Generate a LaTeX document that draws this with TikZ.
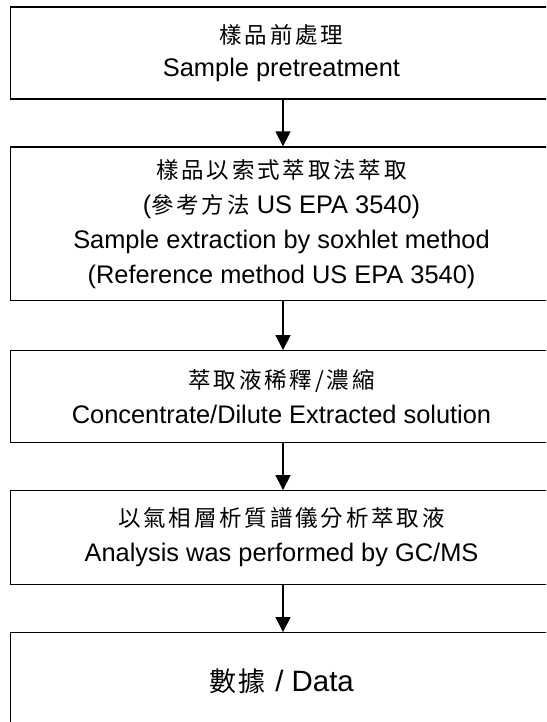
\documentclass[tikz,border=0pt]{standalone}
\usepackage{fontspec}
\setmainfont{Liberation Sans}
\newfontfamily\cjkfont[LetterSpace=12.5]{Noto Sans CJK TC}
\newfontfamily\cjkbig[LetterSpace=8]{Noto Sans CJK TC}
\usetikzlibrary{arrows.meta}
\newcommand\zhline[1]{{\cjkfont\fontsize{22.5}{35}\selectfont #1}}
\begin{document}
\begin{tikzpicture}[x=1pt,y=-1pt,
  flowbox/.style={draw, line width=1.3pt, minimum width=542pt, inner sep=0pt,
    align=center, font=\fontsize{25.4}{35}\selectfont},
  flowarrow/.style={line width=1.5pt, -{Triangle[width=15pt,length=15pt]}}]
\useasboundingbox (0,0) rectangle (546,722);
\clip (0,0) rectangle (546,722);
\node[flowbox, minimum height=92pt] (b1) at (281.5,53)
  {\zhline{樣品前處理}\\[-2pt]Sample pretreatment};
\node[flowbox, minimum height=153.7pt] (b2) at (281.5,223.85)
  {\zhline{樣品以索式萃取法萃取}\\
   (\zhline{參考方法} US EPA 3540)\\
   Sample extraction by soxhlet method\\
   (Reference method US EPA 3540)};
\node[flowbox, minimum height=92pt] (b3) at (281.5,396.7)
  {\zhline{萃取液稀釋/濃縮}\\Concentrate/Dilute Extracted solution};
\node[flowbox, minimum height=93.6pt] (b4) at (281.5,537.5)
  {\zhline{以氣相層析質譜儀分析萃取液}\\Analysis was performed by GC/MS};
\node[flowbox, minimum height=97pt, font=\fontsize{29.4}{35}\selectfont] (b5) at (281.5,681.2)
  {{\cjkbig\fontsize{27}{35}\selectfont 數據}\hspace{10pt}/ Data};
\draw[flowarrow] ([xshift=1.5pt]b1.south) -- ([xshift=1.5pt]b2.north);
\draw[flowarrow] ([xshift=1.5pt]b2.south) -- ([xshift=1.5pt]b3.north);
\draw[flowarrow] ([xshift=1.5pt]b3.south) -- ([xshift=1.5pt]b4.north);
\draw[flowarrow] ([xshift=1.5pt]b4.south) -- ([xshift=1.5pt]b5.north);
\end{tikzpicture}
\end{document}
